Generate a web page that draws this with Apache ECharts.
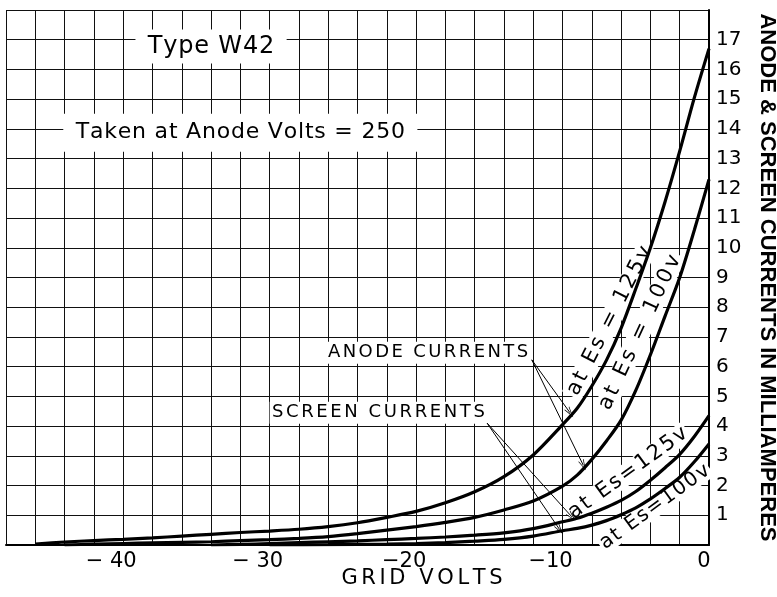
<!DOCTYPE html>
<html>
<head>
<meta charset="utf-8">
<script src="https://cdn.jsdelivr.net/npm/echarts@6/dist/echarts.min.js"></script>
<style>
  html, body { margin: 0; padding: 0; background: #fff; }
  #chart { width: 777px; height: 597px; }
</style>
</head>
<body>
<div id="chart"></div>
<script>
// Type W42 characteristics: grid volts (x) against anode / screen currents in mA (y)
const labelledVolts = [-40, -30, -20, -10, 0];
const currentTicks = [1, 2, 3, 4, 5, 6, 7, 8, 9, 10, 11, 12, 13, 14, 15, 16, 17];

const anode125 = [
  [-46, 0.03], [-44, 0.1], [-42, 0.15], [-40, 0.19], [-38, 0.24], [-36, 0.3],
  [-34, 0.36], [-32, 0.42], [-30, 0.47], [-28, 0.53], [-26, 0.62], [-24, 0.75],
  [-22, 0.93], [-20, 1.13], [-18, 1.42], [-16, 1.79], [-14, 2.3], [-12, 3.03],
  [-10, 4.05], [-9, 4.6], [-8, 5.35], [-7, 6.22], [-6, 7.3], [-5, 8.62],
  [-4, 10.0], [-3, 11.55], [-2, 13.25], [-1, 15.05], [0, 16.7]
];
const anode100 = [
  [-44, 0.0], [-42, 0.03], [-40, 0.05], [-38, 0.07], [-36, 0.09], [-34, 0.11],
  [-32, 0.15], [-30, 0.18], [-28, 0.22], [-26, 0.28], [-24, 0.38], [-22, 0.5],
  [-20, 0.62], [-18, 0.76], [-16, 0.93], [-14, 1.18], [-12, 1.48], [-10, 1.98],
  [-9, 2.35], [-8, 2.88], [-7, 3.5], [-6, 4.2], [-5, 5.2], [-4, 6.4],
  [-3, 7.7], [-2, 9.0], [-1, 10.6], [0, 12.3]
];
const screen125 = [
  [-34, 0.0], [-32, 0.02], [-30, 0.05], [-28, 0.08], [-26, 0.11], [-24, 0.14],
  [-22, 0.18], [-20, 0.22], [-18, 0.27], [-16, 0.33], [-14, 0.41], [-12, 0.55],
  [-10, 0.78], [-9, 0.9], [-8, 1.07], [-7, 1.27], [-6, 1.5], [-5, 1.8],
  [-4, 2.18], [-3, 2.6], [-2, 3.05], [-1, 3.65], [0, 4.35]
];
const screen100 = [
  [-30, 0.0], [-26, 0.01], [-22, 0.03], [-20, 0.05], [-18, 0.08], [-16, 0.13],
  [-14, 0.19], [-12, 0.3], [-10, 0.48], [-9, 0.56], [-8, 0.67], [-7, 0.82],
  [-6, 1.02], [-5, 1.25], [-4, 1.55], [-3, 1.9], [-2, 2.28], [-1, 2.8], [0, 3.4]
];

const FONT = '"DejaVu Sans", sans-serif';
const INK = '#000';

const chart = echarts.init(document.getElementById('chart'), null, { renderer: 'canvas' });

function curve(name, data) {
  return {
    name: name,
    type: 'line',
    data: data,
    symbol: 'none',
    smooth: 0.3,
    lineStyle: { color: INK, width: 3.2 },
    z: 5,
    animation: false
  };
}

// open chevron used as the head of the pointer lines
const chevron = 'path://M0,10 L5,0 L10,10 L8.8,10 L5,2.4 L1.2,10 Z';

const anodeSeries = curve('Anode 125v', anode125);
anodeSeries.markLine = {
  silent: true,
  animation: false,
  symbol: ['none', chevron],
  symbolSize: [6, 11],
  lineStyle: { color: INK, width: 1, type: 'solid' },
  label: { show: false },
  data: [
    [{ coord: [-12.1, 6.23] }, { coord: [-9.49, 4.45] }],
    [{ coord: [-12.1, 6.23] }, { coord: [-8.58, 2.68] }],
    [{ coord: [-15.15, 4.1] }, { coord: [-9.37, 0.95] }],
    [{ coord: [-15.15, 4.1] }, { coord: [-10.2, 0.52] }]
  ]
};

const tickText = { color: INK, fontFamily: FONT, fontSize: 21 };

const option = {
  backgroundColor: '#fff',
  animation: false,
  grid: {
    left: 6, right: 68, top: 10, bottom: 52,
    containLabel: false,
    outerBoundsMode: 'none'
  },
  xAxis: {
    type: 'value',
    min: -48,
    max: 0,
    interval: 2,
    axisLine: { show: true, onZero: false, lineStyle: { color: INK, width: 2 } },
    axisTick: { show: false },
    axisLabel: {
      color: INK,
      fontFamily: FONT,
      fontSize: 21,
      margin: 6,
      formatter: function (v) {
        if (labelledVolts.indexOf(v) < 0) return '';
        if (v === 0) return '{z|0}';
        return '{n|' + (v <= -30 ? '\u2212 ' : '\u2212') + Math.abs(v) + '}';
      },
      rich: {
        n: Object.assign({ padding: [0, 24, 0, 0] }, tickText),
        z: Object.assign({ padding: [0, 10, 0, 0] }, tickText)
      }
    },
    splitLine: { show: true, lineStyle: { color: '#111', width: 1 } }
  },
  yAxis: {
    type: 'value',
    position: 'right',
    min: 0,
    max: 18,
    interval: 1,
    name: 'ANODE & SCREEN CURRENTS IN MILLIAMPERES',
    nameLocation: 'middle',
    nameRotate: -90,
    nameGap: 47,
    nameTextStyle: {
      color: INK,
      fontFamily: '"Liberation Sans", sans-serif',
      fontWeight: 'bold',
      fontSize: 22
    },
    axisLine: { show: true, onZero: false, lineStyle: { color: INK, width: 2 } },
    axisTick: { show: false },
    axisLabel: {
      color: INK,
      fontFamily: FONT,
      fontSize: 20,
      margin: 7,
      formatter: function (v) {
        return currentTicks.indexOf(v) >= 0 ? String(v) : '';
      }
    },
    splitLine: { show: true, lineStyle: { color: '#111', width: 1 } }
  },
  series: [
    anodeSeries,
    curve('Anode 100v', anode100),
    curve('Screen 125v', screen125),
    curve('Screen 100v', screen100)
  ]
};

chart.setOption(option);

// text placed at data positions on the chart, with letter tracking
function toPx(x, y) {
  return chart.convertToPixel({ gridIndex: 0 }, [x, y]);
}
function note(text, at, o) {
  const p = toPx(at[0], at[1]);
  const align = o.align || 'center';
  const gap = o.track || 0;
  const markup = text.split('').map(function (c) { return '{t|' + c + '}'; }).join('');
  return {
    type: 'text',
    x: p[0],
    y: p[1],
    rotation: (o.angle || 0) * Math.PI / 180,
    z: 3,
    silent: true,
    style: {
      text: markup,
      fontSize: o.size,
      fontFamily: FONT,
      fill: INK,
      align: align,
      verticalAlign: 'middle',
      textAlign: align,
      textVerticalAlign: 'middle',
      backgroundColor: o.bg === false ? null : '#fff',
      padding: o.padding || [1, 2],
      rich: {
        t: {
          fontSize: o.size,
          fontFamily: FONT,
          fill: INK,
          padding: [0, gap / 2, 0, gap / 2]
        }
      }
    }
  };
}

chart.setOption({
  graphic: [
    note('Type W42', [-34.0, 16.77], { size: 24, track: 0.8, padding: [5, 12] }),
    note('Taken at Anode Volts = 250', [-32.0, 13.87], { size: 22, track: 0.8, padding: [8, 12] }),
    note('ANODE CURRENTS', [-12.2, 6.47], { size: 18, track: 2.4, align: 'right', padding: [2, 1] }),
    note('SCREEN CURRENTS', [-15.15, 4.45], { size: 18, track: 2.6, align: 'right', padding: [2, 1] }),
    note('at Es = 125v', [-6.79, 7.54], { size: 21, track: 2.6, angle: 63, padding: [0, 1] }),
    note('at Es = 100v', [-4.72, 7.15], { size: 21, track: 3.0, angle: 65, padding: [0, 1] }),
    note('at Es=125v', [-5.53, 2.42], { size: 21, track: 2.2, angle: 36, padding: [0, 1] }),
    note('at Es=100v', [-3.7, 1.28], { size: 20, track: 1.6, angle: 36, padding: [0, 1] }),
    note('GRID VOLTS', [-19.6, -1.12], { size: 21, track: 3.6, bg: false, padding: [0, 0] })
  ]
});
</script>
</body>
</html>
